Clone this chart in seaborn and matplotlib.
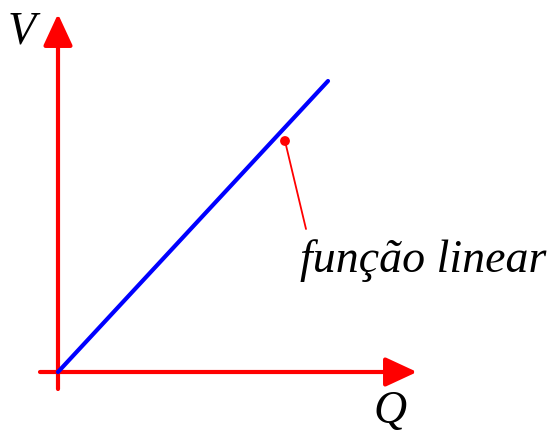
import seaborn as sns
import matplotlib.pyplot as plt
import pandas as pd

sns.set_theme(style="white")
plt.rcParams['font.family'] = ['Liberation Serif', 'DejaVu Serif']

# Data (units measured from the origin)
Q_line = [0, 270]
V_line = [0, 291]
point_q = [227]
point_v = [231]
label_text = "função linear"

df = pd.DataFrame({"Q": Q_line, "V": V_line})

fig = plt.figure(figsize=(5.55, 4.35), dpi=100)
ax = fig.add_axes([0, 0, 1, 1])
ax.set_xlim(-58, 497)
ax.set_ylim(-62, 373)
ax.axis("off")

# axes with arrows
arrow = dict(arrowstyle="-|>,head_length=0.97,head_width=0.45", color="red",
             lw=3, mutation_scale=20, shrinkA=0, shrinkB=0)
ax.annotate("", xy=(0, 358), xytext=(0, -17), arrowprops=arrow)
ax.annotate("", xy=(359, 0), xytext=(-18, 0), arrowprops=arrow)

# the linear function
sns.lineplot(data=df, x="Q", y="V", color="blue", lw=3, ax=ax, zorder=3)

# leader to the label
ax.plot([point_q[0], 248], [point_v[0], 143], color="red", lw=1.3)
sns.scatterplot(x=point_q, y=point_v, color="red", s=50, edgecolor="none", ax=ax, zorder=4)

txt = dict(fontsize=33, style="italic", va="baseline", ha="left", color="black")
ax.text(242, 101, label_text, **txt)
ax.text(-50, 330, "V", **txt)
ax.text(315, -50, "Q", **txt)

fig.savefig("out.png", dpi=100)
